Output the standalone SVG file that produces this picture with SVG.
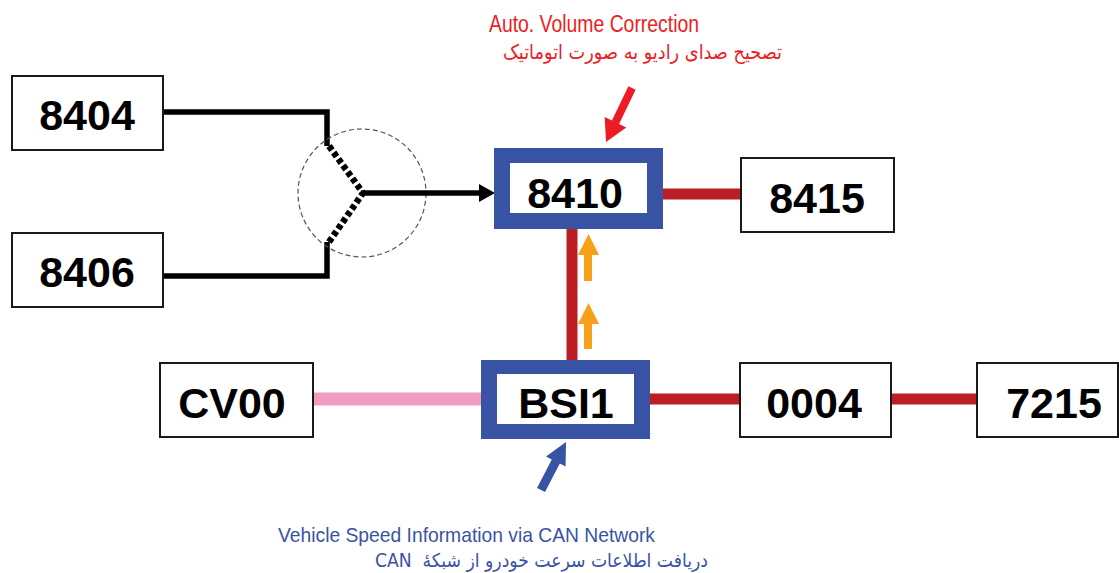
<svg xmlns="http://www.w3.org/2000/svg" width="1119" height="573" viewBox="0 0 1119 573">
<style>
.box{fill:#fff;stroke:#1a1a1a;stroke-width:2}
.blue{fill:#3953a4}
.inner{fill:#fff}
.num{font-family:"Liberation Sans",Arial,sans-serif;font-weight:bold;font-size:43px;fill:#000;text-anchor:middle}
.wire{fill:none;stroke:#000;stroke-width:5.5}
.dot{fill:none;stroke:#000;stroke-width:6.5;stroke-dasharray:5 3}
.can{stroke:#bb1e24;stroke-width:11}
.lbl{font-family:"Liberation Sans Narrow","Liberation Sans",Arial,sans-serif}
.fa{font-family:"DejaVu Sans","Noto Sans",sans-serif;white-space:pre}
</style>
<rect width="1119" height="573" fill="#fff"/>
<g id="connectors">
<polyline class="wire" points="163,112 327,112 327,146"/>
<polyline class="wire" points="163,276 327,276 327,242"/>
<line class="dot" x1="329" y1="146" x2="363" y2="193"/>
<line class="dot" x1="329" y1="242" x2="363" y2="193"/>
<circle cx="362" cy="193" r="64" fill="none" stroke="#555" stroke-width="1.2" stroke-dasharray="5 3"/>
<line class="wire" x1="361" y1="193" x2="481" y2="193"/>
<polygon points="479,184 495,193 479,202" fill="#000"/>
<line class="can" x1="663" y1="194" x2="741" y2="194"/>
<line class="can" x1="572" y1="229" x2="572" y2="360" stroke-width="12"/>
<line x1="313" y1="399" x2="481" y2="399" stroke="#f09bc1" stroke-width="13"/>
<line class="can" x1="650" y1="399" x2="739" y2="399" stroke-width="12"/>
<line class="can" x1="891" y1="399" x2="977" y2="399" stroke-width="12"/>
<polygon points="584,281 584,255 578,255 588.5,234 599,255 592,255 592,281" fill="#f7a11a"/>
<polygon points="584,349 584,324 578,324 588.5,303 599,324 592,324 592,349" fill="#f7a11a"/>
<polygon points="635.6,89.7 619.1,123.9 626.3,127.4 606,142 604.7,117 611.9,120.5 628.4,86.3" fill="#ed1c24"/>
<polygon points="545,492.1 559.8,463.6 565.6,466.6 566,442 546,456.4 551.8,459.4 537,487.9" fill="#3953a4"/>
</g>
<g id="n8404"><rect class="box" x="12" y="76" width="151" height="74"/><text class="num" x="87" y="130">8404</text></g>
<g id="n8406"><rect class="box" x="12" y="233" width="151" height="74"/><text class="num" x="87" y="287">8406</text></g>
<g id="n8410"><rect class="blue" x="494" y="148" width="169" height="81"/><rect class="inner" x="510" y="163" width="137" height="50"/><text class="num" x="575" y="208">8410</text></g>
<g id="n8415"><rect class="box" x="741" y="158" width="153" height="74"/><text class="num" x="817" y="213">8415</text></g>
<g id="nCV00"><rect class="box" x="160" y="363" width="153" height="74"/><text class="num" x="232" y="418">CV00</text></g>
<g id="nBSI1"><rect class="blue" x="481" y="360" width="169" height="79"/><rect class="inner" x="497" y="374" width="137" height="50"/><text class="num" x="566" y="418">BSI1</text></g>
<g id="n0004"><rect class="box" x="740" y="363" width="151" height="74"/><text class="num" x="814" y="418">0004</text></g>
<g id="n7215"><rect class="box" x="977" y="363" width="141" height="74"/><text class="num" x="1054" y="418">7215</text></g>
<g id="labels">
<text class="lbl" x="489" y="32" font-size="23" fill="#ed1c24" textLength="210" lengthAdjust="spacingAndGlyphs">Auto. Volume Correction</text>
<text class="fa" x="642.5" y="59" font-size="20" fill="#ed1c24" direction="rtl" text-anchor="middle" textLength="279" lengthAdjust="spacingAndGlyphs">تصحیح صدای رادیو به صورت اتوماتیک</text>
<text class="lbl" x="278" y="542" font-size="21" fill="#3953a4" textLength="377" lengthAdjust="spacingAndGlyphs">Vehicle Speed Information via CAN Network</text>
<text class="fa" x="541.5" y="567" font-size="19" fill="#3953a4" direction="rtl" text-anchor="middle" textLength="333" lengthAdjust="spacingAndGlyphs">دریافت اطلاعات سرعت خودرو از شبکهٔ  CAN</text>
</g>
</svg>
